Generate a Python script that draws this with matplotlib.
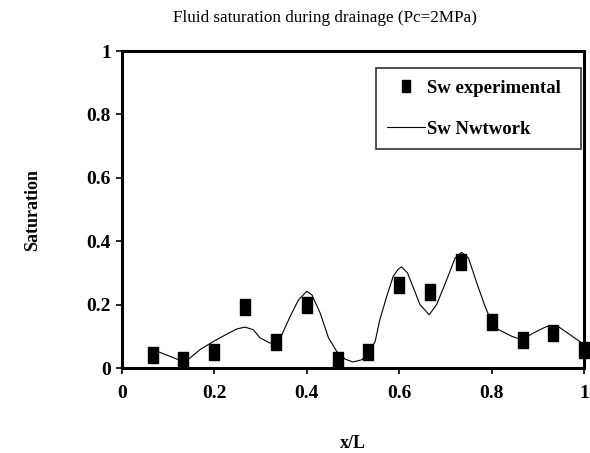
import matplotlib
matplotlib.use("Agg")
import matplotlib.pyplot as plt

plt.rcParams['font.family'] = ['Liberation Serif', 'DejaVu Serif']

# experimental points
exp_x = [0.067, 0.133, 0.200, 0.267, 0.333, 0.400, 0.467, 0.533,
         0.600, 0.667, 0.733, 0.800, 0.867, 0.933, 1.000]
exp_sw = [0.042, 0.026, 0.049, 0.192, 0.083, 0.200, 0.024, 0.049,
          0.263, 0.239, 0.333, 0.145, 0.089, 0.110, 0.058]

# network model curve
net_x = [0.067, 0.100, 0.126, 0.144, 0.169, 0.198, 0.227, 0.248, 0.266, 0.284,
         0.299, 0.320, 0.333, 0.346, 0.364, 0.382, 0.400, 0.411, 0.429, 0.447,
         0.465, 0.483, 0.500, 0.519, 0.533, 0.548, 0.558, 0.573, 0.587, 0.598,
         0.605, 0.618, 0.631, 0.645, 0.665, 0.681, 0.703, 0.721, 0.735, 0.750,
         0.768, 0.786, 0.800, 0.815, 0.844, 0.865, 0.890, 0.919, 0.944, 0.970,
         1.000]
net_sw = [0.058, 0.039, 0.024, 0.028, 0.058, 0.084, 0.107, 0.123, 0.129, 0.121,
          0.095, 0.079, 0.078, 0.105, 0.163, 0.215, 0.242, 0.231, 0.173, 0.095,
          0.052, 0.028, 0.019, 0.026, 0.045, 0.084, 0.152, 0.226, 0.289, 0.312,
          0.319, 0.300, 0.252, 0.200, 0.168, 0.200, 0.279, 0.347, 0.365, 0.347,
          0.268, 0.194, 0.145, 0.121, 0.100, 0.089, 0.110, 0.131, 0.131, 0.105,
          0.074]

ticks = [0, 0.2, 0.4, 0.6, 0.8, 1]
tick_labels = ['0', '0.2', '0.4', '0.6', '0.8', '1']

rect = [(-0.67, -1), (0.67, -1), (0.67, 1), (-0.67, 1), (-0.67, -1)]

fig = plt.figure(figsize=(5.9, 4.53), dpi=100)
ax = fig.add_axes([0.2068, 0.1876, 0.783, 0.6998])

ax.plot(exp_x, exp_sw, linestyle='none', marker=rect, markersize=11,
        color='black', label='Sw experimental', clip_on=False, zorder=3)
ax.plot(net_x, net_sw, color='black', linewidth=0.8, label='Sw Nwtwork',
        clip_on=False, zorder=2)

ax.set_xlim(0, 1)
ax.set_ylim(0, 1)
ax.set_xticks(ticks)
ax.set_xticklabels(tick_labels)
ax.set_yticks(ticks)
ax.set_yticklabels(tick_labels)
for lab in ax.get_xticklabels() + ax.get_yticklabels():
    lab.set_fontweight('bold')
    lab.set_fontsize(14)
ax.tick_params(direction='out', length=4, width=1.2, top=False, right=False)
ax.tick_params(axis='x', pad=8)
ax.tick_params(axis='y', pad=4)
for s in ax.spines.values():
    s.set_linewidth(2.2)

fig.text(325 / 590, 1 - 18 / 453, 'Fluid saturation during drainage (Pc=2MPa)',
         fontsize=12.3, ha='center', va='center')
ax.set_xlabel('x/L', fontsize=13, fontweight='bold', labelpad=24)
ax.set_ylabel('Saturation', fontsize=13, fontweight='bold', labelpad=33)

leg = ax.legend(loc='upper left', bbox_to_anchor=(0.55, 0.5, 0.4435, 0.446),
                mode='expand', frameon=True, fancybox=False, edgecolor='black',
                prop={'weight': 'bold', 'size': 13.5},
                handlelength=2.0, handletextpad=0.1, borderpad=0.6, labelspacing=1.3,
                borderaxespad=0)
leg.get_frame().set_linewidth(1.2)
leg.legend_handles[0].set_markersize(9)

fig.savefig('out.png', dpi=100)
